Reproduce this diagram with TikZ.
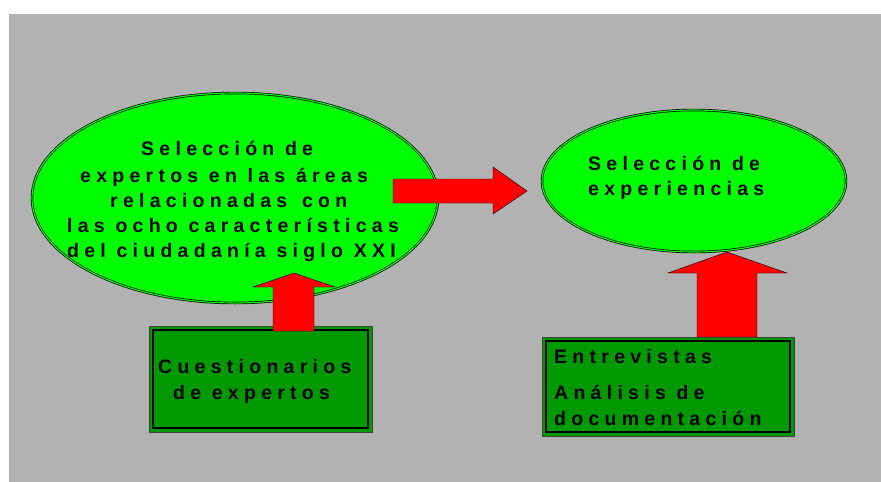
\documentclass[tikz,border=0pt]{standalone}
\usepackage{fontspec}
\setmainfont{Liberation Sans}[LetterSpace=27]
\usetikzlibrary{shapes.geometric}
\definecolor{bggray}{RGB}{178,178,178}
\definecolor{lgreen}{RGB}{0,255,0}
\definecolor{dgreen}{RGB}{0,153,0}
\definecolor{ared}{RGB}{255,0,0}
\begin{document}
\begin{tikzpicture}[x=1pt,y=-1pt,
  lbl/.style={inner sep=0pt, anchor=base west, font=\fontsize{19.5}{25.5}\selectfont\bfseries},
  oval/.style={ellipse, draw=black, line width=0.7pt, double=lgreen, double distance=1.1pt, fill=lgreen, inner sep=0pt},
  box/.style={rectangle, draw=black!75, line width=0.8pt, fill=dgreen, inner sep=0pt},
  innerframe/.style={rectangle, draw=black, line width=2.2pt, inner sep=0pt},
  blockarrow/.style={fill=ared, draw=black, line width=0.4pt, line join=miter}]
\fill[white] (0,0) rectangle (881,482);
\fill[bggray] (9,14) rectangle (881,482);
\useasboundingbox (0,0) rectangle (881,482);
% ellipses
\node[oval, minimum width=406pt, minimum height=210pt] (e1) at (235,198) {};
\node[oval, minimum width=304pt, minimum height=142pt] (e2) at (694,181) {};
% right up arrow (under box)
\draw[blockarrow] (697,337) -- (697,273) -- (668,273) -- (727,252) -- (787,273) -- (757,273) -- (757,337) -- cycle;
% boxes
\node[box, minimum width=223pt, minimum height=106pt] (b1) at (260.5,379) {};
\node[innerframe, minimum width=215pt, minimum height=98pt] (b1i) at (b1.center) {};
\node[box, minimum width=252pt, minimum height=99pt] (b2) at (668,386.5) {};
\node[innerframe, minimum width=244pt, minimum height=91pt] (b2i) at (b2.center) {};
% left up arrow (over box)
\draw[blockarrow] (273,331) -- (273,287) -- (253,287) -- (294,273) -- (335,287) -- (314,287) -- (314,331) -- cycle;
% right arrow
\draw[blockarrow] (393,179) -- (493,179) -- (493,167) -- (527,191) -- (493,214) -- (493,203) -- (393,203) -- cycle;
% texts left ellipse
\node[lbl] (t1) at (141,155) {Selección de};
\node[lbl] (t2) at (80,182) {expertos en las áreas};
\node[lbl] (t3) at (110,207) {relacionadas \hspace{4pt}con};
\node[lbl] (t4) at (67,232) {las ocho características};
\node[lbl] (t5) at (67,257) {del ciudadanía siglo XXI};
% right ellipse
\node[lbl] (r1) at (588,170) {Selección de};
\node[lbl] (r2) at (588,195) {experiencias};
% left box
\node[lbl] (c1) at (158,373) {Cuestionarios};
\node[lbl] (c2) at (173,399) {de expertos};
% right box
\node[lbl] (d1) at (554,363) {Entrevistas};
\node[lbl] (d2) at (554,399) {Análisis de};
\node[lbl] (d3) at (554,425) {documentación};
\end{tikzpicture}
\end{document}
